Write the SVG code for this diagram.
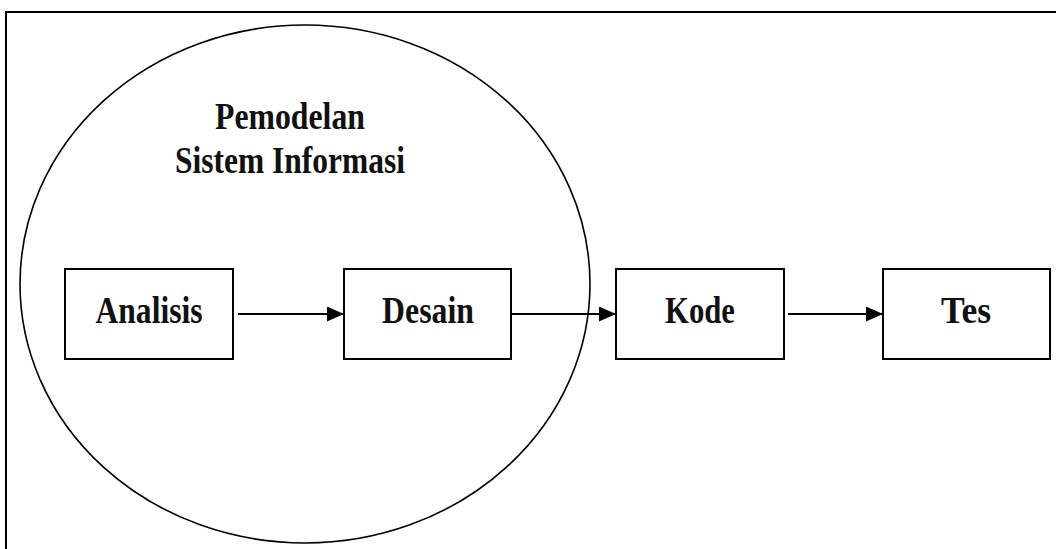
<svg xmlns="http://www.w3.org/2000/svg" width="1056" height="549" viewBox="0 0 1056 549">
<style>
.box{fill:#fff;stroke:#000;stroke-width:2}
.lbl{font-family:"Liberation Serif","Times New Roman",serif;font-weight:bold;font-size:37px;fill:#111;text-anchor:middle}
.ttl{font-family:"Liberation Serif","Times New Roman",serif;font-weight:bold;font-size:37px;fill:#111;text-anchor:middle}
.con{stroke:#000;stroke-width:2;fill:none}
</style>
<defs>
<marker id="ah" viewBox="0 0 10 10" refX="10" refY="5" markerWidth="17" markerHeight="15" markerUnits="userSpaceOnUse" orient="auto" preserveAspectRatio="none">
<path d="M0,0 L10,5 L0,10 z" fill="#000"/>
</marker>
</defs>
<rect x="0" y="0" width="1056" height="549" fill="#fff"/>
<path d="M6,549 L6,12 L1056,12" fill="none" stroke="#000" stroke-width="2"/>
<g id="scope">
<ellipse cx="305" cy="284" rx="285" ry="259" fill="none" stroke="#000" stroke-width="1.6"/>
<text class="ttl" x="290" y="129" textLength="150" lengthAdjust="spacingAndGlyphs">Pemodelan</text>
<text class="ttl" x="290" y="173" textLength="230" lengthAdjust="spacingAndGlyphs">Sistem Informasi</text>
</g>
<g id="connectors">
<line class="con" x1="238" y1="314" x2="344" y2="314" marker-end="url(#ah)"/>
<line class="con" x1="511" y1="314" x2="616" y2="314" marker-end="url(#ah)"/>
<line class="con" x1="788" y1="314" x2="883" y2="314" marker-end="url(#ah)"/>
</g>
<g id="analisis">
<rect class="box" x="65" y="269" width="168" height="90"/>
<text class="lbl" x="149" y="323" textLength="107" lengthAdjust="spacingAndGlyphs">Analisis</text>
</g>
<g id="desain">
<rect class="box" x="344" y="269" width="167" height="90"/>
<text class="lbl" x="428" y="323" textLength="92" lengthAdjust="spacingAndGlyphs">Desain</text>
</g>
<g id="kode">
<rect class="box" x="616" y="269" width="168" height="90"/>
<text class="lbl" x="700" y="323" textLength="70" lengthAdjust="spacingAndGlyphs">Kode</text>
</g>
<g id="tes">
<rect class="box" x="883" y="269" width="167" height="90"/>
<text class="lbl" x="966" y="323" textLength="50" lengthAdjust="spacingAndGlyphs">Tes</text>
</g>
</svg>
